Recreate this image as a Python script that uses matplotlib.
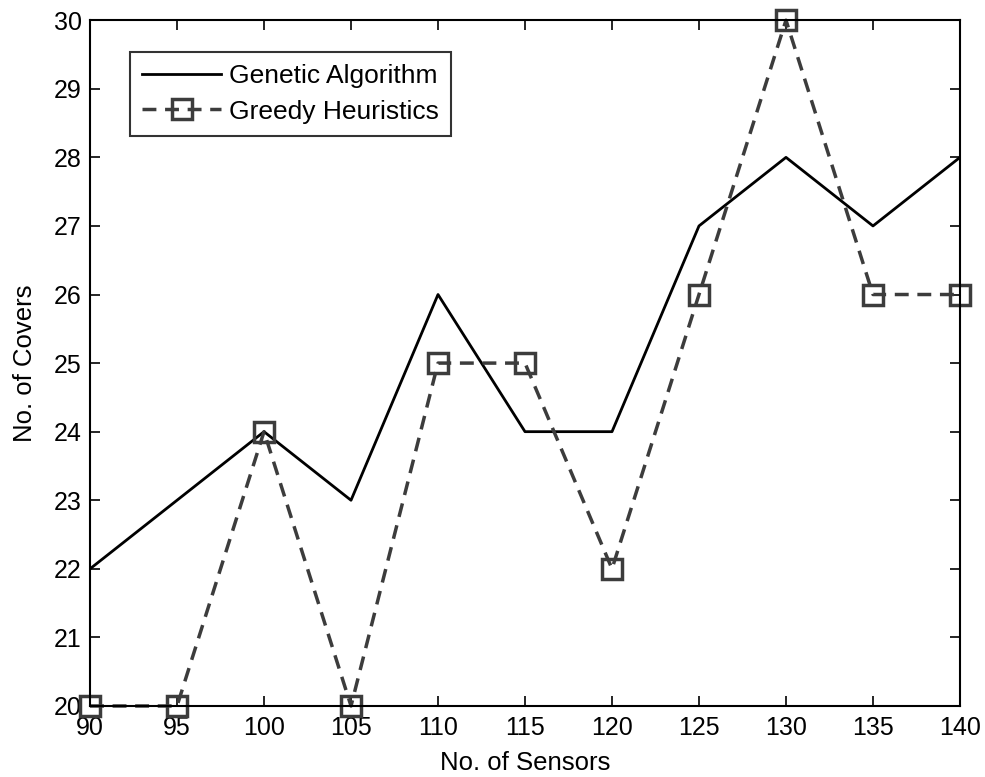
import matplotlib
matplotlib.use("Agg")
import matplotlib.pyplot as plt

plt.rcParams['font.family'] = ['Liberation Sans', 'DejaVu Sans']

sensors = [90, 95, 100, 105, 110, 115, 120, 125, 130, 135, 140]
genetic = [22, 23, 24, 23, 26, 24, 24, 27, 28, 27, 28]
greedy = [20, 20, 24, 20, 25, 25, 22, 26, 30, 26, 26]

fig = plt.figure(figsize=(9.85, 7.77), dpi=100)
ax = fig.add_axes([0.0914, 0.0914, 0.8832, 0.8826])

ax.plot(sensors, genetic, color='black', lw=2, label='Genetic Algorithm')
ax.plot(sensors, greedy, color='#3c3c3c', lw=2.5, ls=(0, (4, 2.5)),
        marker='s', ms=14, mfc='none', mew=2.5, mec='#3c3c3c',
        label='Greedy Heuristics', clip_on=False)

ax.set_xlim(90, 140)
ax.set_ylim(20, 30)
ax.set_xticks(sensors)
ax.set_yticks(range(20, 31))
ax.tick_params(direction='in', top=True, right=True, length=7, width=1.2,
               labelsize=18)
ax.tick_params(axis='x', pad=7)
ax.tick_params(axis='y', pad=6)
for s in ax.spines.values():
    s.set_linewidth(1.5)

ax.set_xlabel('No. of Sensors', fontsize=18.5, labelpad=8)
ax.set_ylabel('No. of Covers', fontsize=18.5, labelpad=12)

leg = ax.legend(loc='upper left', bbox_to_anchor=(0.031, 0.973), fontsize=19,
                frameon=True, fancybox=False, edgecolor='black',
                handlelength=3.0, borderpad=0.45, labelspacing=0.45,
                handletextpad=0.3)
leg.get_frame().set_linewidth(1.5)

fig.savefig('out.png', dpi=100)
